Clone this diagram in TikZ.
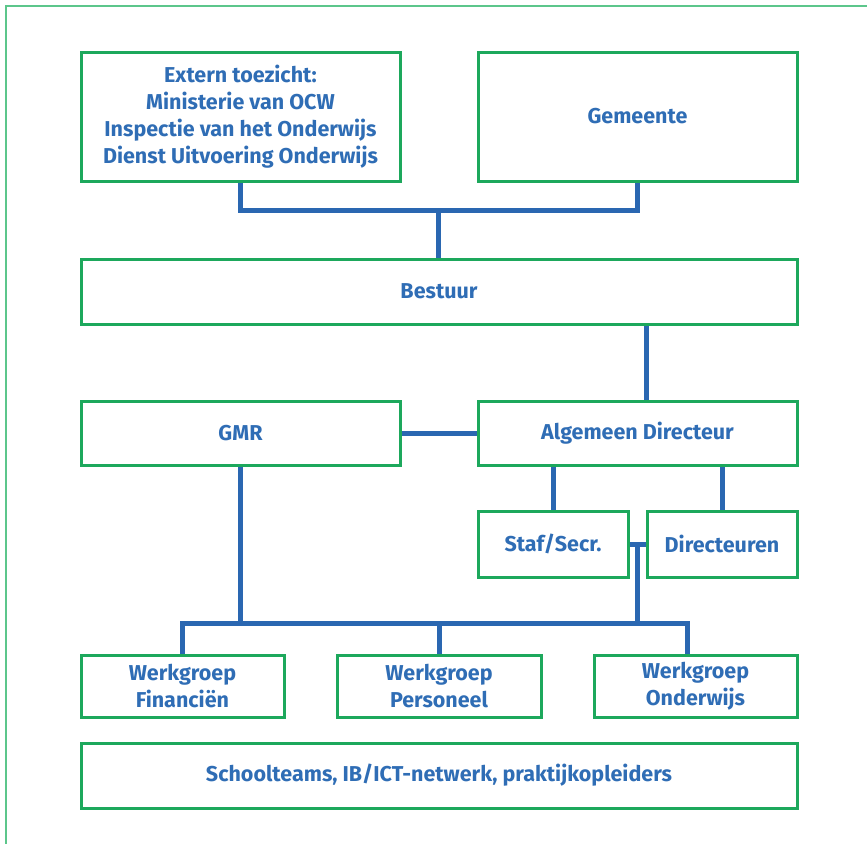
\documentclass[tikz,border=0pt]{standalone}
\usepackage{fontspec}
\setmainfont{Fira Sans}
\usetikzlibrary{positioning, calc}
\definecolor{boxgreen}{HTML}{1DA85C}
\definecolor{framegreen}{HTML}{5CC68B}
\definecolor{linkblue}{HTML}{2A67B1}
\definecolor{textblue}{HTML}{2F6DB5}

\tikzset{
  orgbox/.style={draw=boxgreen, line width=3pt, fill=white, text=textblue,
    font=\bfseries\fontsize{21.5}{27}\selectfont, align=center, inner sep=0pt},
  link/.style={draw=linkblue, line width=5pt},
}

\begin{document}
\begin{tikzpicture}[x=1pt, y=-1pt]
  % canvas and outer frame (cut at right and bottom)
  \useasboundingbox (0,0) rectangle (867,844);
  \draw[framegreen, line width=2pt] (867,6) -- (6,6) -- (6,844);

  % top row
  \node[orgbox, minimum width=319, minimum height=129] (ext) at (240.5,116.5)
    {Extern toezicht:\\Ministerie van OCW\\Inspectie van het Onderwijs\\Dienst Uitvoering Onderwijs};
  \node[orgbox, minimum width=319, minimum height=129] (gem) at (637.5,116.5) {Gemeente};

  \node[orgbox, minimum width=716, minimum height=65] (bestuur) at (439,291.5) {Bestuur};

  \node[orgbox, minimum width=319, minimum height=64] (gmr) at (240.5,433) {GMR};
  \node[orgbox, minimum width=319, minimum height=64] (alg) at (637.5,433) {Algemeen Directeur};

  \node[orgbox, minimum width=150, minimum height=66] (staf) at (553,544) {Staf/Secr.};
  \node[orgbox, minimum width=150, minimum height=66] (dir) at (722,544) {Directeuren};

  % werkgroepen
  \node[orgbox, minimum width=203, minimum height=62] (wfin) at (182.5,686) {Werkgroep\\Financiën};
  \node[orgbox, minimum width=204, minimum height=62] (wpers) at (439,686) {Werkgroep\\Personeel};
  \node[orgbox, minimum width=203, minimum height=62] (wond) at (695.5,686) {Werkgroep\\Onderwijs};

  \node[orgbox, minimum width=716, minimum height=65] (school) at (439,775.5)
    {Schoolteams, IB/ICT-netwerk, praktijkopleiders};

  % connectors
  \coordinate (topfork) at (438,210);
  \draw[link] (ext.south) |- (topfork) -| (gem.south);
  \draw[link] (topfork) -- (topfork |- bestuur.north);
  \draw[link] ([xshift=8.5pt]alg.north) -- ([xshift=8.5pt]alg.north |- bestuur.south);
  \draw[link] (gmr.east) -- (alg.west);
  \draw[link] (staf.north) -- (staf.north |- alg.south);
  \draw[link] (dir.north) -- (dir.north |- alg.south);
  \draw[link] (staf.east) -- (dir.west);

  \coordinate (sdfork) at ($(staf.east)!0.5!(dir.west)$);
  \coordinate (bar) at (0,623);
  \draw[link] (sdfork) -- (sdfork |- bar);
  \draw[link] (gmr.south) -- (gmr.south |- bar);
  \draw[link] (wfin.north) |- ([xshift=-8.5pt]wond.north |- bar) -- ([xshift=-8.5pt]wond.north);
  \draw[link] (wpers.north) -- (wpers.north |- bar);
\end{tikzpicture}
\end{document}
